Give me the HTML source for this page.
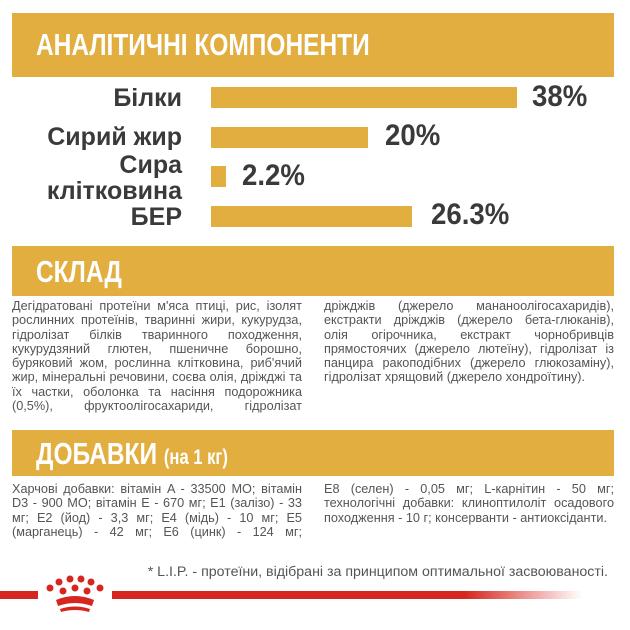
<!DOCTYPE html>
<html><head><meta charset="utf-8"><style>
body{margin:0;width:630px;height:630px;background:#fff;position:relative;overflow:hidden;font-family:"Liberation Sans Narrow","Liberation Sans",sans-serif;color:#3a3a3a}
.ban{position:absolute;left:12px;width:602px;background:#e1ae3f;color:#fff;font-weight:bold}
.ban span{position:absolute;left:24px;font-size:31px;white-space:nowrap;transform:scaleX(.79);transform-origin:left top}
.lbl{position:absolute;right:448px;font-weight:bold;font-size:25px;text-align:right;line-height:26px;color:#3a3a3a;transform:scaleX(1.0);transform-origin:right top;white-space:nowrap}
.bar{position:absolute;left:211px;background:#e1ae3f;height:21px}
.pct{position:absolute;font-weight:bold;font-size:30px;color:#3a3a3a;transform:scaleX(.92);transform-origin:left top}
.txt{position:absolute;font-size:12.7px;line-height:14.3px;text-align:justify;text-align-last:left;color:#555}
</style></head><body>
<div class="ban" style="top:13px;height:64px"><span style="top:14px">АНАЛІТИЧНІ КОМПОНЕНТИ</span></div>
<div class="lbl" style="top:85px">Білки</div>
<div class="bar" style="top:87px;width:306px"></div>
<div class="pct" style="left:532px;top:80px">38%</div>
<div class="lbl" style="top:124px">Сирий жир</div>
<div class="bar" style="top:127px;width:157px"></div>
<div class="pct" style="left:385px;top:119px">20%</div>
<div class="lbl" style="top:152px">Сира<br>клітковина</div>
<div class="bar" style="top:166px;width:15px"></div>
<div class="pct" style="left:242px;top:159px">2.2%</div>
<div class="lbl" style="top:204px">БЕР</div>
<div class="bar" style="top:206px;width:201px"></div>
<div class="pct" style="left:431px;top:198px">26.3%</div>

<div class="ban" style="top:246px;height:50px"><span style="top:8px">СКЛАД</span></div>
<div class="txt" style="left:12px;top:299px;width:290px;text-align-last:justify">Дегідратовані протеїни м'яса птиці, рис, ізолят рослинних протеїнів, тваринні жири, кукурудза, гідролізат білків тваринного походження, кукурудзяний глютен, пшеничне борошно, буряковий жом, рослинна клітковина, риб'ячий жир, мінеральні речовини, соєва олія, дріжджі та їх частки, оболонка та насіння подорожника (0,5%), фруктоолігосахариди, гідролізат</div>
<div class="txt" style="left:324px;top:299px;width:290px">дріжджів (джерело мананоолігосахаридів), екстракти дріжджів (джерело бета-глюканів), олія огірочника, екстракт чорнобривців прямостоячих (джерело лютеїну), гідролізат із панцира ракоподібних (джерело глюкозаміну), гідролізат хрящовий (джерело хондроїтину).</div>

<div class="ban" style="top:430px;height:46px"><span style="top:6px">ДОБАВКИ <small style="font-size:21px">(на 1 кг)</small></span></div>
<div class="txt" style="left:12px;top:482px;width:290px;text-align-last:justify">Харчові добавки: вітамін A - 33500 МО; вітамін D3 - 900 МО; вітамін E - 670 мг; E1 (залізо) - 33 мг; E2 (йод) - 3,3 мг; E4 (мідь) - 10 мг; E5 (марганець) - 42 мг; E6 (цинк) - 124 мг;</div>
<div class="txt" style="left:324px;top:482px;width:290px">E8 (селен) - 0,05 мг; L-карнітин - 50 мг; технологічні добавки: клиноптилоліт осадового походження - 10 г; консерванти - антиоксіданти.</div>

<div class="txt" style="left:100px;width:508px;top:565px;font-size:14.2px;text-align:right;text-align-last:right">* L.I.P. - протеїни, відібрані за принципом оптимальної засвоюваності.</div>
<div style="position:absolute;left:0;top:591px;width:38px;height:8px;background:#d6261f"></div>
<div style="position:absolute;left:112px;top:591px;width:470px;height:8px;background:linear-gradient(90deg,#d6261f 0,#d6261f 75%,rgba(214,38,31,0) 100%)"></div>
<svg style="position:absolute;left:44px;top:574px" width="62" height="44" viewBox="0 0 62 44">
<g fill="#d6261f"><circle cx="6" cy="14" r="3.5"/><circle cx="15" cy="8" r="3.5"/><circle cx="26" cy="5" r="3.5"/><circle cx="37" cy="5" r="3.5"/><circle cx="47" cy="8" r="3.5"/><circle cx="56" cy="14" r="3.5"/>
<circle cx="19" cy="17" r="3.5"/><circle cx="31" cy="14" r="3.5"/><circle cx="43" cy="17" r="3.5"/>
<path d="M12 26 Q31 18 50 26 L48 32 Q31 26 14 32 Z"/><path d="M16 35 Q31 30 46 35 L45 38 Q31 34 17 38Z"/></g></svg>
</body></html>
